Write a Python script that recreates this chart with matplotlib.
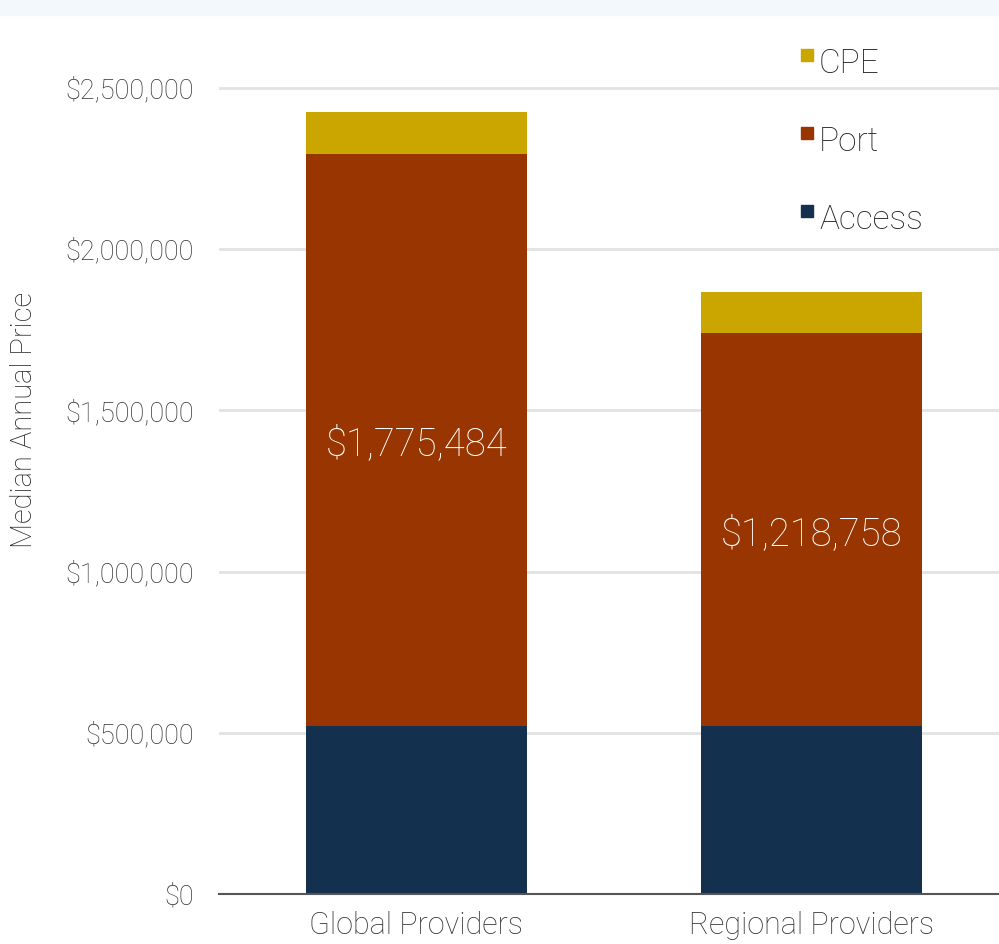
import numpy as np
import matplotlib
matplotlib.use("Agg")
import matplotlib.pyplot as plt
from matplotlib.patches import Rectangle
from matplotlib.ticker import FuncFormatter

plt.rcParams['font.family'] = ['Roboto', 'DejaVu Sans']
plt.rcParams['font.weight'] = 'light'
plt.rcParams['axes.labelweight'] = 'light'

categories = ['Global Providers', 'Regional Providers']
access = [520000, 520000]
port = [1775484, 1218758]
cpe = [131000, 130000]
port_labels = ['$1,775,484', '$1,218,758']

C_ACCESS = '#13304f'
C_PORT = '#993500'
C_CPE = '#cba500'

fig = plt.figure(figsize=(9.99, 9.44), dpi=100)
# faint band at the very top, like the screenshot
fig.add_artist(Rectangle((0, 0.984), 1, 0.016, transform=fig.transFigure,
                         color='#f3f8fc', zorder=0))
ax = fig.add_axes([0.2192, 0.053, 0.7808, 0.922])

x = np.arange(len(categories))
w = 0.559
access = np.array(access)
port = np.array(port)
cpe = np.array(cpe)
ax.bar(x, access, w, color=C_ACCESS, zorder=3)
ax.bar(x, port, w, bottom=access, color=C_PORT, zorder=3)
ax.bar(x, cpe, w, bottom=access + port, color=C_CPE, zorder=3)

for i in range(len(categories)):
    ax.text(x[i], access[i] + port[i] / 2, port_labels[i], color='white',
            fontsize=27.5, ha='center', va='center_baseline', zorder=4)

ax.set_xlim(-0.499, 1.473)
ax.set_ylim(0, 2700000)
ax.set_yticks(np.arange(0, 2500001, 500000))
ax.yaxis.set_major_formatter(FuncFormatter(lambda v, p: '${:,.0f}'.format(v)))
ax.set_xticks(x)
ax.set_xticklabels(categories, fontsize=22, color='#333333')
ax.tick_params(axis='y', labelsize=19.5, labelcolor='#333333', length=0, pad=18)
ax.tick_params(axis='x', length=0, pad=12)
ax.set_ylabel('Median Annual Price', fontsize=21, color='#222222',
              fontweight='light')
ax.yaxis.set_label_coords(-0.232, 0.545)

ax.grid(axis='y', color='#e2e2e2', linewidth=2, zorder=0)
for s in ['top', 'right', 'left']:
    ax.spines[s].set_visible(False)
ax.spines['bottom'].set_color('#555555')
ax.spines['bottom'].set_linewidth(1.5)
ax.spines['bottom'].set_zorder(5)

# legend entries placed by hand (figure pixels)
legend_items = [('CPE', C_CPE), ('Port', C_PORT), ('Access', C_ACCESS)]
for k, (name, col) in enumerate(legend_items):
    yc = 944 - (64 + 78 * k)
    fig.add_artist(Rectangle((801 / 999, (yc + 3) / 944), 12 / 999, 12 / 944,
                             transform=fig.transFigure, color=col))
    fig.text(819 / 999, yc / 944, name, fontsize=24, color='#222222',
             va='center', ha='left')

fig.savefig('out.png', dpi=100)
